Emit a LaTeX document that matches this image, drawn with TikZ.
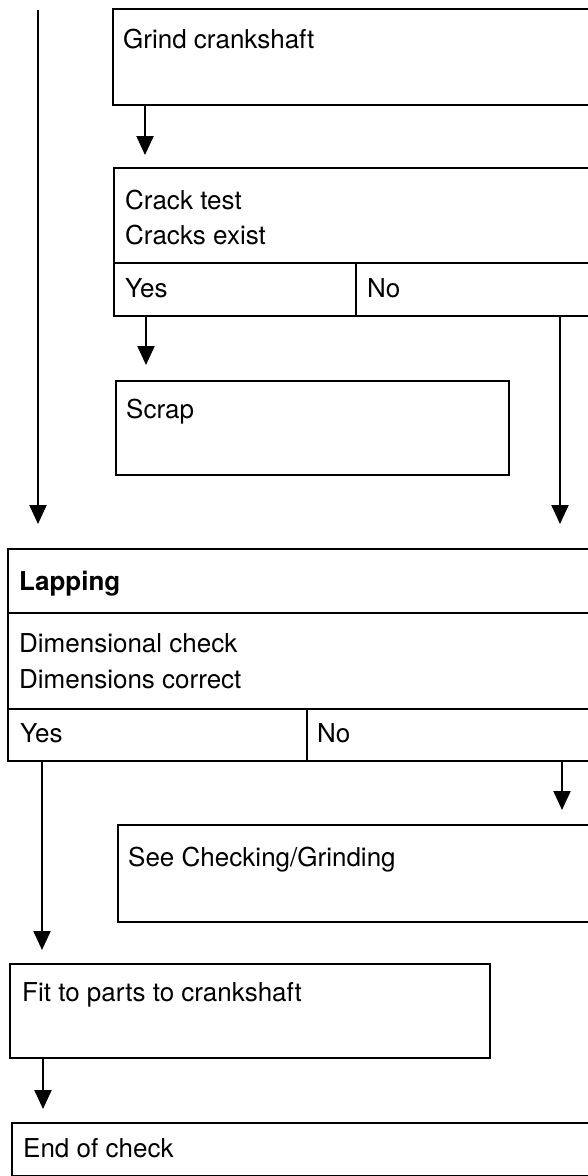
\documentclass[tikz,border=0pt]{standalone}
\usepackage{fontspec}
\setmainfont{TeX Gyre Heros}
\usetikzlibrary{arrows.meta,calc}
\begin{document}
\begin{tikzpicture}[x=1pt,y=-1pt,
  box/.style={draw, line width=2.2pt, inner sep=0pt, anchor=north west, rectangle},
  txt/.style={anchor=base west, inner sep=0pt, font=\fontsize{26}{30}\selectfont},
  arr/.style={line width=2.2pt, -{Triangle[length=19pt,width=17pt]}}]
\useasboundingbox (0,0) rectangle (588,1176);
\clip (0,0) rectangle (588,1176);
% boxes
\node[box, minimum width=488pt, minimum height=96pt] (grind) at (112,8) {};
\node[box, minimum width=487pt, minimum height=95pt] (crack) at (113,167) {};
\node[box, minimum width=242pt, minimum height=53pt] (crackyes) at (113,262) {};
\node[box, minimum width=245pt, minimum height=53pt] (crackno) at (355,262) {};
\node[box, minimum width=393pt, minimum height=94pt] (scrap) at (115,380) {};
\node[box, minimum width=593pt, minimum height=64pt] (lap) at (7,548) {};
\node[box, minimum width=593pt, minimum height=96pt] (dim) at (7,612) {};
\node[box, minimum width=299pt, minimum height=52pt] (lapyes) at (7,708) {};
\node[box, minimum width=294pt, minimum height=52pt] (lapno) at (306,708) {};
\node[box, minimum width=483pt, minimum height=97pt] (see) at (117,824) {};
\node[box, minimum width=480pt, minimum height=94pt] (fit) at (9,963) {};
\node[box, minimum width=589pt, minimum height=53pt] (endbox) at (11,1122) {};
% texts
\node[txt] (t1) at (123,48) {Grind crankshaft};
\node[txt] (t2) at (125,209) {Crack test};
\node[txt] (t3) at (125,244) {Cracks exist};
\node[txt] (t4) at (125,297) {Yes};
\node[txt] (t5) at (367,297) {No};
\node[txt] (t6) at (126,418) {Scrap};
\node[txt, font=\fontsize{26}{30}\selectfont\bfseries] (t7) at (19,590) {Lapping};
\node[txt] (t8) at (19,652) {Dimensional check};
\node[txt] (t9) at (19,688) {Dimensions correct};
\node[txt] (t10) at (20,742) {Yes};
\node[txt] (t11) at (317,742) {No};
\node[txt] (t12) at (128,866) {See Checking/Grinding};
\node[txt] (t13) at (22,1001) {Fit to parts to crankshaft};
\node[txt] (t14) at (23,1157) {End of check};
% connectors
\coordinate (start) at (38,10);
\draw[arr, shorten >=24pt] (start) -- (start |- lap.north);
\draw[arr, shorten >=12pt] ($(grind.south west)+(33,0)$) coordinate (g1) -- (g1 |- crack.north);
\draw[arr, shorten >=15pt] ($(crackyes.south west)+(33,0)$) coordinate (c1) -- (c1 |- scrap.north);
\draw[arr, shorten >=24pt] ($(crackno.south west)+(205,0)$) coordinate (c2) -- (c2 |- lap.north);
\draw[arr, shorten >=13pt] ($(lapyes.south west)+(35,0)$) coordinate (l1) -- (l1 |- fit.north);
\draw[arr, shorten >=14pt] ($(lapno.south west)+(256,0)$) coordinate (l2) -- (l2 |- see.north);
\draw[arr, shorten >=13pt] ($(fit.south west)+(34,0)$) coordinate (f1) -- (f1 |- endbox.north);
\end{tikzpicture}
\end{document}
